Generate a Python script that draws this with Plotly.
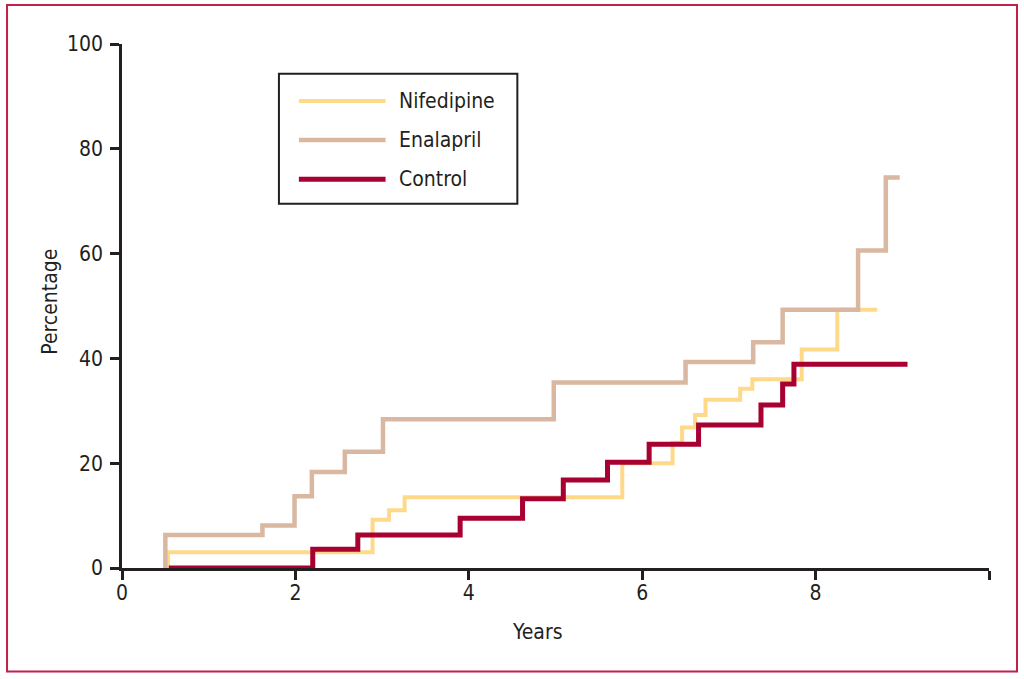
import plotly.graph_objects as go

# ---- data (years, percentage) ----
series_names = ["Nifedipine", "Enalapril", "Control"]

nifedipine_times = [0.53, 2.89, 3.08, 3.26, 5.77, 6.35, 6.46, 6.61, 6.73, 7.13, 7.27, 7.84, 8.25]
nifedipine_values = [3.0, 9.2, 11.0, 13.5, 20.0, 23.9, 26.8, 29.2, 32.1, 34.2, 36.0, 41.7, 49.3]
nifedipine_end = 8.71

enalapril_times = [0.50, 1.62, 1.99, 2.19, 2.57, 3.01, 4.98, 6.50, 7.28, 7.62, 8.49, 8.81]
enalapril_values = [6.3, 8.1, 13.7, 18.3, 22.2, 28.4, 35.4, 39.3, 43.1, 49.3, 60.6, 74.5]
enalapril_end = 8.97

control_times = [0.54, 2.20, 2.72, 3.90, 4.62, 5.09, 5.60, 6.08, 6.65, 7.37, 7.62, 7.75]
control_values = [0.0, 3.6, 6.3, 9.5, 13.2, 16.8, 20.2, 23.6, 27.3, 31.1, 35.1, 38.9]
control_end = 9.06

x_ticks = [0, 2, 4, 6, 8, 10]
x_ticklabels = ["0", "2", "4", "6", "8", ""]
y_ticks = [0, 20, 40, 60, 80, 100]

colors = ["#FFD98A", "#D9B7A0", "#A80030"]
widths = [4, 4.5, 5]

FONT = "DejaVu Sans Condensed, Liberation Sans Narrow, Arial Narrow, sans-serif"
FS = 21
AXIS = "#231f20"


def step_xy(times, values, end):
    xs = [times[0]] + list(times) + [end]
    ys = [0.0] + list(values) + [values[-1]]
    return xs, ys


fig = go.Figure()
data = [
    (nifedipine_times, nifedipine_values, nifedipine_end),
    (enalapril_times, enalapril_values, enalapril_end),
    (control_times, control_values, control_end),
]
for name, (t, v, e), c, w in zip(series_names, data, colors, widths):
    xs, ys = step_xy(t, v, e)
    fig.add_trace(go.Scatter(x=xs, y=ys, mode="lines", name=name,
                             line=dict(color=c, width=w, shape="hv"),
                             showlegend=False, hoverinfo="skip"))

# ---- manual legend (long line samples, boxed) ----
leg_y = [89.1, 81.7, 74.2]
shapes = [
    dict(type="rect", xref="x", yref="y", x0=1.81, x1=4.56, y0=69.5, y1=94.3,
         line=dict(color=AXIS, width=2), fillcolor="rgba(0,0,0,0)", layer="above"),
]
annotations = []
for name, c, w, yy in zip(series_names, colors, widths, leg_y):
    shapes.append(dict(type="line", xref="x", yref="y", x0=2.04, x1=3.04, y0=yy, y1=yy,
                       line=dict(color=c, width=w), layer="above"))
    annotations.append(dict(x=3.17, y=yy, xref="x", yref="y", text=name, showarrow=False,
                            xanchor="left", yanchor="middle",
                            font=dict(family=FONT, size=FS, color=AXIS)))

# ---- outer crimson frame ----
shapes.append(dict(type="rect", xref="paper", yref="paper",
                   x0=-0.1326, x1=1.0323, y0=-0.1975, y1=1.0744,
                   line=dict(color="#C41E4A", width=2), fillcolor="rgba(0,0,0,0)"))

# ---- axis titles ----
annotations.append(dict(x=0.4795, y=-0.122, xref="paper", yref="paper", text="Years",
                        showarrow=False, xanchor="center", yanchor="middle",
                        font=dict(family=FONT, size=FS, color=AXIS)))
annotations.append(dict(x=-0.0825, y=0.509, xref="paper", yref="paper", text="Percentage",
                        showarrow=False, xanchor="center", yanchor="middle", textangle=-90,
                        font=dict(family=FONT, size=FS, color=AXIS)))

fig.update_layout(
    width=1024, height=679,
    margin=dict(l=122, r=34.5, t=44, b=111, pad=0),
    paper_bgcolor="white", plot_bgcolor="white",
    font=dict(family=FONT, size=FS, color=AXIS),
    shapes=shapes, annotations=annotations,
    xaxis=dict(range=[0, 10], tickvals=x_ticks, ticktext=x_ticklabels,
               showgrid=False, zeroline=False, showline=True, linecolor=AXIS, linewidth=2.5,
               ticks="outside", ticklen=9, tickwidth=2.5, tickcolor=AXIS,
               tickfont=dict(family=FONT, size=FS, color=AXIS), ticklabelstandoff=-5),
    yaxis=dict(range=[0, 100], tickvals=y_ticks,
               showgrid=False, zeroline=False, showline=True, linecolor=AXIS, linewidth=2.5,
               ticks="outside", ticklen=9, tickwidth=2.5, tickcolor=AXIS,
               tickfont=dict(family=FONT, size=FS, color=AXIS), ticklabelstandoff=3),
)

fig.write_html("out.html", config={"displayModeBar": False},
               post_script="document.body.style.margin='0';")
